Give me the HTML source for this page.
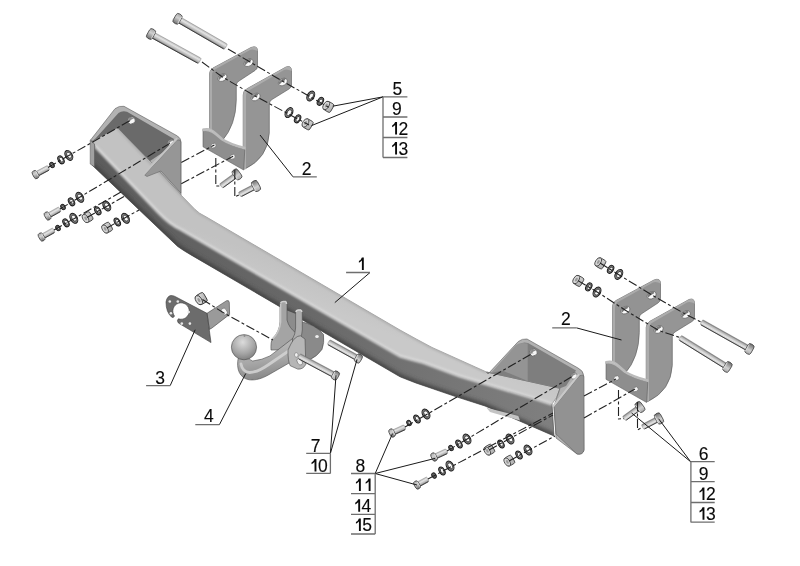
<!DOCTYPE html>
<html><head><meta charset="utf-8">
<style>
html,body{margin:0;padding:0;background:#fff;width:800px;height:566px;overflow:hidden}
svg{display:block;will-change:transform}

</style></head><body>
<svg width="800" height="566" viewBox="0 0 800 566">
<rect width="800" height="566" fill="#fff"/>
<defs>
<linearGradient id="gTop" gradientUnits="userSpaceOnUse" x1="300" y1="270" x2="290" y2="295">
<stop offset="0" stop-color="#c2c2c2"/><stop offset="1" stop-color="#c9c9c9"/></linearGradient>
<linearGradient id="gSide" gradientUnits="userSpaceOnUse" x1="90" y1="0" x2="560" y2="0">
<stop offset="0" stop-color="#5c5c5c"/><stop offset="0.45" stop-color="#686868"/><stop offset="1" stop-color="#808080"/></linearGradient>

<linearGradient id="gShaft" x1="0" y1="0" x2="0" y2="1">
<stop offset="0" stop-color="#b8b8b8"/><stop offset="0.35" stop-color="#e4e4e4"/><stop offset="0.75" stop-color="#b4b4b4"/><stop offset="1" stop-color="#707070"/></linearGradient>
<linearGradient id="gHead" x1="0" y1="0" x2="1" y2="1">
<stop offset="0" stop-color="#d0d0d0"/><stop offset="1" stop-color="#8c8c8c"/></linearGradient>
<g id="brk2">
 <path d="M209.5,74 Q209.5,70 213,68 L251,47.5 Q257.5,45 257.5,51 L257.5,66 Q257.5,69 255,70.5 L239,81 Q236.3,82.5 236.3,85 L236.3,100 Q236,125 222,141 L209.5,141 Z" fill="#939393" stroke="#555" stroke-width="0.6"/>
 <path d="M209.5,141 L209.5,74 Q209.5,70 213,68 L251,47.5 Q257.5,45 257.5,51 L255,50 Q252,49 250,50 L214,70 Q212,72 212,76 L212,141 Z" fill="#ababab"/>
 <path d="M243.2,95 Q243.2,91 246.5,89 L286,67 Q291.5,65 291.5,71 L291.5,85 Q291.5,87.5 289,89 L272,99.5 Q269.3,101 269.3,104 L269.3,133 Q268,158 245,169 L243.2,169 Z" fill="#959595" stroke="#555" stroke-width="0.6"/>
 <path d="M243.2,169 L243.2,95 Q243.2,91 246.5,89 L286,67 Q291.5,65 291.5,71 L289,70 Q286,69 284,70 L248,91 Q246,93 246,97 L246,169 Z" fill="#adadad"/>
 <g transform="translate(222.4,77.6) rotate(-30)"><ellipse rx="4.8" ry="3.4" fill="#fafafa" stroke="#555" stroke-width="0.6"/><path d="M-4.3,0.6 Q-4.3,-3.1 0.5,-3.0 L3.8,-2.8 L3.3,-0.4 Q-1,-1.0 -4.3,0.6 Z" fill="#7a7a7a"/></g><g transform="translate(248.6,62.7) rotate(-30)"><ellipse rx="4.8" ry="3.4" fill="#fafafa" stroke="#555" stroke-width="0.6"/><path d="M-4.3,0.6 Q-4.3,-3.1 0.5,-3.0 L3.8,-2.8 L3.3,-0.4 Q-1,-1.0 -4.3,0.6 Z" fill="#7a7a7a"/></g><g transform="translate(255.6,97) rotate(-30)"><ellipse rx="4.8" ry="3.4" fill="#fafafa" stroke="#555" stroke-width="0.6"/><path d="M-4.3,0.6 Q-4.3,-3.1 0.5,-3.0 L3.8,-2.8 L3.3,-0.4 Q-1,-1.0 -4.3,0.6 Z" fill="#7a7a7a"/></g><g transform="translate(282.8,82) rotate(-30)"><ellipse rx="4.8" ry="3.4" fill="#fafafa" stroke="#555" stroke-width="0.6"/><path d="M-4.3,0.6 Q-4.3,-3.1 0.5,-3.0 L3.8,-2.8 L3.3,-0.4 Q-1,-1.0 -4.3,0.6 Z" fill="#7a7a7a"/></g>
 <path d="M203,129.3 L203,146.8 L243.7,170 L244.8,148.9 C237,146.8 228,144 222,140 C214,133 210,129 203,129.3 Z" fill="#8e8e8e" stroke="#5e5e5e" stroke-width="0.6"/>
 <path d="M203,129.3 C210,127 214,131 222,138.5 C228,142.5 237,145.5 244.8,147.5 L244.8,148.9 C237,146.8 228,144 222,140 C214,133 210,129.3 203,130.5 Z" fill="#d0d0d0" stroke="#bbb" stroke-width="1.5"/>
 <g fill="#f2f2f2" stroke="#666" stroke-width="0.6">
  <ellipse cx="213.5" cy="145.7" rx="2.8" ry="2.2" transform="rotate(-30 213.5 145.7)"/>
  <ellipse cx="232.6" cy="156.8" rx="2.8" ry="2.2" transform="rotate(-30 232.6 156.8)"/>
 </g>
</g>
<linearGradient id="gHeadB" x1="0" y1="0" x2="0" y2="1">
<stop offset="0" stop-color="#a8a8a8"/><stop offset="0.4" stop-color="#d0d0d0"/><stop offset="1" stop-color="#707070"/></linearGradient>
<linearGradient id="gNut" x1="0" y1="0" x2="1" y2="1">
<stop offset="0" stop-color="#e4e4e4"/><stop offset="1" stop-color="#a8a8a8"/></linearGradient>
<radialGradient id="gBall" cx="0.45" cy="0.3" r="0.75">
<stop offset="0" stop-color="#dcdcdc"/><stop offset="0.6" stop-color="#a6a6a6"/><stop offset="1" stop-color="#7a7a7a"/></radialGradient>
<linearGradient id="gNeck" x1="0" y1="0" x2="0.2" y2="1">
<stop offset="0" stop-color="#c2c2c2"/><stop offset="0.6" stop-color="#a8a8a8"/><stop offset="1" stop-color="#8a8a8a"/></linearGradient>
<filter id="blur1" x="-10%" y="-10%" width="120%" height="120%"><feGaussianBlur stdDeviation="1.0"/></filter>
<filter id="blur2" x="-10%" y="-10%" width="120%" height="120%"><feGaussianBlur stdDeviation="2.2"/></filter>
<clipPath id="clipBar"><path d="M91,141 L92.5,141 L117.5,128 L181,195 L195,209.4 Q199,213.5 206,216.8 L400,330 Q416,339 432,347.4 L486.5,372 L560,388.3 Q557,399 552,404 L554,436 L485,406 L455.6,396.6 L415.9,383 Q408,380 400,376.8 L191.8,255.4 Q184,251 177.7,246.5 L92,165 Z"/></clipPath>
</defs><g id="bar" stroke-linejoin="round">
<!-- left bracket rim + inner face -->
<path d="M90.6,140 L115,108.7 Q119,105.5 124,106.3 L177.5,136 Q181,138.5 181,142 L181,195 L150,161 L117.5,128 L92.5,141 Z" fill="#b2b2b2" stroke="#5a5a5a" stroke-width="0.6"/>
<path d="M95.5,138.5 L118.5,113 Q122,110.5 127,111.8 L174,139 L171,147 L150,161 L117.5,128 L93.5,140.5 Z" fill="#6a6a6a"/>
<g transform="translate(131.5,120.5) rotate(-30)"><ellipse rx="3.8" ry="3.4" fill="#f6f6f6" stroke="#4a4a4a" stroke-width="0.6"/><path d="M-3.4,0.4 Q-3.4,-3.2 0,-3.2 Q2.9,-3.0 3.4,-0.5 Q0,-1.6 -3.4,0.4 Z" fill="#8a8a8a"/></g>
<g transform="translate(171,142.5) rotate(-30)"><ellipse rx="3.4" ry="3.0" fill="#f6f6f6" stroke="#4a4a4a" stroke-width="0.6"/><path d="M-3.0,0.4 Q-3.0,-2.8 0,-2.8 Q2.5,-2.6 3.0,-0.5 Q0,-1.6 -3.0,0.4 Z" fill="#8a8a8a"/></g>
<!-- bar side face -->
<path d="M91,141 L95,146 L158,212 Q170,224.5 181,229.5 L400,356 Q412,360 423.8,362.5 L460,376 L530.7,397.1 L552,404 L554,436 L485,406 L455.6,396.6 L415.9,383 Q408,380 400,376.8 L191.8,255.4 Q184,251 177.7,246.5 L92,165 Z" fill="url(#gSide)" stroke="#505050" stroke-width="0.7"/>
<!-- bar top face -->
<path d="M92.5,141 L117.5,128 L181,195 L195,209.4 Q199,213.5 206,216.8 L400,330 Q416,339 432,347.4 L486.5,372 L560,388.3 Q557,399 552,404 L530.7,397.1 L460,376 L423.8,362.5 Q412,359.5 400,356 L181,229.5 Q170,224.5 158,212 L95,146 Z" fill="url(#gTop)" stroke="#6a6a6a" stroke-width="0.5"/>
<g clip-path="url(#clipBar)">
<path d="M92,165 L177.7,246.5 Q184,251 191.8,255.4 L400,376.8 Q408,380 415.9,383 L455.6,396.6 L485,406 L554,436" fill="none" stroke="#404040" stroke-width="5" filter="url(#blur2)"/>
<path d="M95,146 L158,212 Q170,224.5 181,229.5 L400,356 Q412,359.5 423.8,362.5 L460,376 L530.7,397.1 L552,404" fill="none" stroke="#d8d8d8" stroke-width="3" filter="url(#blur1)"/>
<path d="M117.5,128 L181,195 L195,209.4 Q199,213.5 206,216.8 L400,330 Q416,339 432,347.4 L486.5,372" fill="none" stroke="#b0b0b0" stroke-width="3" filter="url(#blur1)"/>
</g>
<!-- bar end face dark -->
<path d="M90.2,140 L94.5,144 L94.5,167 L90.2,164 Z" fill="#a0a0a0" stroke="#555" stroke-width="0.5"/>
<!-- left gusset -->
<path d="M144.5,175 L177,140 Q180.8,139 180.8,142 L180.8,193 L161,171 L147,176.5 Z" fill="#969696" stroke="#5a5a5a" stroke-width="0.5"/>
<path d="M143.8,174 L176.5,139" fill="none" stroke="#c4c4c4" stroke-width="2.2" stroke-linecap="round"/>
<!-- right bracket -->
<path d="M488,374 L518.3,341.5 Q522,338.5 527,339 L578,368 Q583.5,371 583.5,375 L584,450 Q583,455 577,454 L556,438 L554,406 L560,388.3 L486.5,372 Z" fill="#b2b2b2" stroke="#5a5a5a" stroke-width="0.6"/>
<path d="M492,372.5 L520,344 Q523,341.6 528,343 L576,370.5 L566,386 L560,388.3 L486.5,372 Z" fill="#7e7e7e"/>
<path d="M491,373 L516,345 Q520,342 527.7,343.5 L527.7,381 L502.3,370.5 Z" fill="#949494"/>
<g transform="translate(533.5,352.5) rotate(-30)"><ellipse rx="3.8" ry="3.4" fill="#f6f6f6" stroke="#4a4a4a" stroke-width="0.6"/><path d="M-3.4,0.4 Q-3.4,-3.2 0,-3.2 Q2.9,-3.0 3.4,-0.5 Q0,-1.6 -3.4,0.4 Z" fill="#8a8a8a"/></g>
<g transform="translate(574,376) rotate(-30)"><ellipse rx="3.4" ry="3.0" fill="#f6f6f6" stroke="#4a4a4a" stroke-width="0.6"/><path d="M-3.0,0.4 Q-3.0,-2.8 0,-2.8 Q2.5,-2.6 3.0,-0.5 Q0,-1.6 -3.0,0.4 Z" fill="#8a8a8a"/></g>
<path d="M486.5,407.7 L518.3,416 L520,420.5 L490,412 Z" fill="#c4c4c4"/>
<path d="M554,407 L579,376 Q584,374 584,377 L584,450 Q583,455 577,454 L556,434 Z" fill="#929292" stroke="#555" stroke-width="0.5"/>
<path d="M553.5,406 L578.5,375" fill="none" stroke="#c8c8c8" stroke-width="2" stroke-linecap="round"/>
</g>
<use href="#brk2"/>
<use href="#brk2" transform="translate(403,232.5)"/>
<g id="socket" stroke-linejoin="round">
 <path d="M207,313.3 L226.6,300.7 Q229,299.8 229.3,302.5 L229.6,314.4 L211.7,328.2 L209.4,329.4 Z" fill="#9a9a9a" stroke="#444" stroke-width="0.6"/>
 <ellipse cx="224.3" cy="311.5" rx="2.6" ry="3.6" transform="rotate(-35 224.3 311.5)" fill="#f4f4f4" stroke="#555" stroke-width="0.5"/>
 <path d="M166,302 Q167,296 171,295.5 Q174,295.5 176,297 L207,313.3 L211,342.6 L178.4,323 Q176.5,320.5 178.4,318.8 A8.2,8.2 0 1,0 174.5,316 Q173.5,318.5 171.5,317 Q166,312 166,302 Z" fill="#6c6c6c" stroke="#3a3a3a" stroke-width="0.6"/>
 <g fill="#e8e8e8">
  <circle cx="169.8" cy="301.5" r="1.3"/><circle cx="177.8" cy="301.5" r="1.3"/>
  <circle cx="170.9" cy="313.3" r="1.3"/><circle cx="188.7" cy="312.1" r="1.3"/>
  <circle cx="181.8" cy="323.6" r="1.3"/><circle cx="189.9" cy="323.6" r="1.3"/>
 </g>
</g>
<g id="hitch" stroke-linejoin="round">
 <!-- disc -->
 <path d="M300,321.5 Q315,324 323.5,334.5 Q324.5,343 322,349.4 Q317,356.5 310,359.5 L300,357 Z" fill="#8a8a8a" stroke="#4a4a4a" stroke-width="0.6"/>
 <ellipse cx="317" cy="336.5" rx="1.8" ry="1.5" fill="#eee"/>
 <!-- body between prongs -->
 <path d="M286,310 L296,314 L296,342 L286,340 Z" fill="#8c8c8c"/>
 <!-- back plate with left prong -->
 <path d="M280,304 Q280.3,301.2 283,301 L285.5,301 Q287,301.5 287,304 L287,320 Q289,328 296,333 L296,350 L271,350 Q270.5,342 272.5,338.5 Q279.5,332 280,322 Z" fill="#a4a4a4" stroke="#4a4a4a" stroke-width="0.6"/>
 <path d="M272.5,339 Q279.5,332.5 280.6,322 L280.6,304" fill="none" stroke="#c6c6c6" stroke-width="1.5"/>
 <path d="M280.5,303.5 Q281,301.5 283,301.5 L285.5,301.5 Q286.5,302 286.5,304" fill="none" stroke="#d0d0d0" stroke-width="1.6"/>
 <!-- right prong -->
 <path d="M295.6,312.5 Q295.8,309.5 298.5,309.3 L300.5,309.3 Q302.3,309.8 302.3,312.5 L302.3,330 Q302,336 300,338 L294,344 L292,340 Q295.6,334 295.6,328 Z" fill="#adadad" stroke="#4a4a4a" stroke-width="0.6"/>
 <path d="M296,312 Q296.3,310 298.5,310 L300.5,310 Q301.8,310.3 301.8,312" fill="none" stroke="#d4d4d4" stroke-width="1.6"/>
 <!-- neck -->
 <path d="M238.5,357 C235.5,369 240,378.5 249.3,379.8 C256,380.5 262,378.5 268.3,375 L292.6,361 L292.6,338.5 L270,355.9 Q262,360 252.7,361 Q249,360 248,357 Z" fill="url(#gNeck)" stroke="#4a4a4a" stroke-width="0.6"/>
 <path d="M241,364 Q242.5,372 249.5,372.5 Q257,372.5 268,365 L290,350" fill="none" stroke="#d2d2d2" stroke-width="2.8" stroke-linecap="round" opacity="0.9"/>
 <!-- front flange -->
 <path d="M290.9,344 Q295,336 300.4,335.8 L305,339 L305.8,364.4 Q303,369.6 297.7,369.1 L290.2,365.7 Q287.8,361 288,350 Z" fill="#b6b6b6" stroke="#4a4a4a" stroke-width="0.6"/>
 <ellipse cx="296.3" cy="354.9" rx="1.8" ry="2.2" fill="#f0f0f0" stroke="#555" stroke-width="0.4"/>
 <ellipse cx="299.7" cy="361.7" rx="2.4" ry="3.6" transform="rotate(-30 299.7 361.7)" fill="#f0f0f0" stroke="#555" stroke-width="0.5"/>
 <!-- ball -->
 <circle cx="244" cy="347.2" r="12.6" fill="url(#gBall)" stroke="#4a4a4a" stroke-width="0.6"/>
 <circle cx="244.5" cy="335.8" r="1.1" fill="#8a8a8a"/>
</g>
<g transform="translate(177.5,18.8) rotate(30.0)"><rect x="0" y="-3.00" width="56.0" height="6.00" rx="1.2" fill="url(#gShaft)" stroke="#777" stroke-width="0.4"/><path d="M0,3.00 L55.0,3.00" stroke="#333" stroke-width="0.8"/><rect x="-3.25" y="-5.25" width="6.50" height="10.50" rx="2.4" fill="url(#gHeadB)" stroke="#333" stroke-width="0.7"/><path d="M2.55,-3.85 L2.55,3.85" stroke="#e0e0e0" stroke-width="0.9"/></g><g transform="translate(151.0,34.0) rotate(28.9)"><rect x="0" y="-3.00" width="55.9" height="6.00" rx="1.2" fill="url(#gShaft)" stroke="#777" stroke-width="0.4"/><path d="M0,3.00 L54.9,3.00" stroke="#333" stroke-width="0.8"/><rect x="-3.25" y="-5.25" width="6.50" height="10.50" rx="2.4" fill="url(#gHeadB)" stroke="#333" stroke-width="0.7"/><path d="M2.55,-3.85 L2.55,3.85" stroke="#e0e0e0" stroke-width="0.9"/></g><g transform="translate(35.5,174.6) rotate(-28.1)"><rect x="0" y="-2.50" width="14.9" height="5.00" rx="1.2" fill="url(#gShaft)" stroke="#777" stroke-width="0.4"/><path d="M0,2.50 L13.9,2.50" stroke="#333" stroke-width="0.8"/><rect x="-2.50" y="-4.25" width="5.00" height="8.50" rx="2.4" fill="url(#gHeadB)" stroke="#333" stroke-width="0.7"/><path d="M1.80,-2.85 L1.80,2.85" stroke="#e0e0e0" stroke-width="0.9"/></g><g transform="translate(47.5,216.0) rotate(-29.2)"><rect x="0" y="-2.50" width="14.3" height="5.00" rx="1.2" fill="url(#gShaft)" stroke="#777" stroke-width="0.4"/><path d="M0,2.50 L13.3,2.50" stroke="#333" stroke-width="0.8"/><rect x="-2.50" y="-4.25" width="5.00" height="8.50" rx="2.4" fill="url(#gHeadB)" stroke="#333" stroke-width="0.7"/><path d="M1.80,-2.85 L1.80,2.85" stroke="#e0e0e0" stroke-width="0.9"/></g><g transform="translate(41.5,237.0) rotate(-29.2)"><rect x="0" y="-2.50" width="14.3" height="5.00" rx="1.2" fill="url(#gShaft)" stroke="#777" stroke-width="0.4"/><path d="M0,2.50 L13.3,2.50" stroke="#333" stroke-width="0.8"/><rect x="-2.50" y="-4.25" width="5.00" height="8.50" rx="2.4" fill="url(#gHeadB)" stroke="#333" stroke-width="0.7"/><path d="M1.80,-2.85 L1.80,2.85" stroke="#e0e0e0" stroke-width="0.9"/></g><g transform="translate(237.0,174.4) rotate(144.1)"><rect x="0" y="-2.60" width="19.8" height="5.20" rx="1.2" fill="url(#gShaft)" stroke="#777" stroke-width="0.4"/><path d="M0,-2.60 L18.8,-2.60" stroke="#333" stroke-width="0.8"/><rect x="-3.25" y="-5.50" width="6.50" height="11.00" rx="2.4" fill="url(#gHeadB)" stroke="#333" stroke-width="0.7"/><path d="M2.55,-4.10 L2.55,4.10" stroke="#e0e0e0" stroke-width="0.9"/></g><g transform="translate(256.0,186.0) rotate(152.5)"><rect x="0" y="-2.60" width="18.6" height="5.20" rx="1.2" fill="url(#gShaft)" stroke="#777" stroke-width="0.4"/><path d="M0,-2.60 L17.6,-2.60" stroke="#333" stroke-width="0.8"/><rect x="-3.25" y="-5.50" width="6.50" height="11.00" rx="2.4" fill="url(#gHeadB)" stroke="#333" stroke-width="0.7"/><path d="M2.55,-4.10 L2.55,4.10" stroke="#e0e0e0" stroke-width="0.9"/></g><g transform="translate(640.0,407.0) rotate(144.1)"><rect x="0" y="-2.60" width="19.8" height="5.20" rx="1.2" fill="url(#gShaft)" stroke="#777" stroke-width="0.4"/><path d="M0,-2.60 L18.8,-2.60" stroke="#333" stroke-width="0.8"/><rect x="-3.25" y="-5.50" width="6.50" height="11.00" rx="2.4" fill="url(#gHeadB)" stroke="#333" stroke-width="0.7"/><path d="M2.55,-4.10 L2.55,4.10" stroke="#e0e0e0" stroke-width="0.9"/></g><g transform="translate(659.0,418.5) rotate(152.5)"><rect x="0" y="-2.60" width="18.6" height="5.20" rx="1.2" fill="url(#gShaft)" stroke="#777" stroke-width="0.4"/><path d="M0,-2.60 L17.6,-2.60" stroke="#333" stroke-width="0.8"/><rect x="-3.25" y="-5.50" width="6.50" height="11.00" rx="2.4" fill="url(#gHeadB)" stroke="#333" stroke-width="0.7"/><path d="M2.55,-4.10 L2.55,4.10" stroke="#e0e0e0" stroke-width="0.9"/></g><g transform="translate(749.5,349.0) rotate(-150.7)"><rect x="0" y="-2.70" width="55.2" height="5.40" rx="1.2" fill="url(#gShaft)" stroke="#777" stroke-width="0.4"/><path d="M0,-2.70 L54.2,-2.70" stroke="#333" stroke-width="0.8"/><rect x="-3.25" y="-5.25" width="6.50" height="10.50" rx="2.4" fill="url(#gHeadB)" stroke="#333" stroke-width="0.7"/><path d="M2.55,-3.85 L2.55,3.85" stroke="#e0e0e0" stroke-width="0.9"/></g><g transform="translate(727.5,367.0) rotate(-148.2)"><rect x="0" y="-2.70" width="55.9" height="5.40" rx="1.2" fill="url(#gShaft)" stroke="#777" stroke-width="0.4"/><path d="M0,-2.70 L54.9,-2.70" stroke="#333" stroke-width="0.8"/><rect x="-3.25" y="-5.25" width="6.50" height="10.50" rx="2.4" fill="url(#gHeadB)" stroke="#333" stroke-width="0.7"/><path d="M2.55,-3.85 L2.55,3.85" stroke="#e0e0e0" stroke-width="0.9"/></g><g transform="translate(392.0,433.0) rotate(-24.8)"><rect x="0" y="-2.50" width="14.3" height="5.00" rx="1.2" fill="url(#gShaft)" stroke="#777" stroke-width="0.4"/><path d="M0,2.50 L13.3,2.50" stroke="#333" stroke-width="0.8"/><rect x="-2.50" y="-4.25" width="5.00" height="8.50" rx="2.4" fill="url(#gHeadB)" stroke="#333" stroke-width="0.7"/><path d="M1.80,-2.85 L1.80,2.85" stroke="#e0e0e0" stroke-width="0.9"/></g><g transform="translate(434.0,457.0) rotate(-24.8)"><rect x="0" y="-2.50" width="14.3" height="5.00" rx="1.2" fill="url(#gShaft)" stroke="#777" stroke-width="0.4"/><path d="M0,2.50 L13.3,2.50" stroke="#333" stroke-width="0.8"/><rect x="-2.50" y="-4.25" width="5.00" height="8.50" rx="2.4" fill="url(#gHeadB)" stroke="#333" stroke-width="0.7"/><path d="M1.80,-2.85 L1.80,2.85" stroke="#e0e0e0" stroke-width="0.9"/></g><g transform="translate(417.0,485.0) rotate(-28.6)"><rect x="0" y="-2.50" width="12.5" height="5.00" rx="1.2" fill="url(#gShaft)" stroke="#777" stroke-width="0.4"/><path d="M0,2.50 L11.5,2.50" stroke="#333" stroke-width="0.8"/><rect x="-2.50" y="-4.25" width="5.00" height="8.50" rx="2.4" fill="url(#gHeadB)" stroke="#333" stroke-width="0.7"/><path d="M1.80,-2.85 L1.80,2.85" stroke="#e0e0e0" stroke-width="0.9"/></g><g transform="translate(335.5,375.5) rotate(-151.9)"><rect x="0" y="-2.70" width="41.4" height="5.40" rx="1.2" fill="url(#gShaft)" stroke="#777" stroke-width="0.4"/><path d="M0,-2.70 L40.4,-2.70" stroke="#333" stroke-width="0.8"/><rect x="-3.00" y="-4.50" width="6.00" height="9.00" rx="2.4" fill="url(#gHeadB)" stroke="#333" stroke-width="0.7"/><path d="M2.30,-3.10 L2.30,3.10" stroke="#e0e0e0" stroke-width="0.9"/></g><g transform="translate(358.5,358.5) rotate(-151.1)"><rect x="0" y="-2.70" width="34.2" height="5.40" rx="1.2" fill="url(#gShaft)" stroke="#777" stroke-width="0.4"/><path d="M0,-2.70 L33.2,-2.70" stroke="#333" stroke-width="0.8"/><rect x="-3.00" y="-4.50" width="6.00" height="9.00" rx="2.4" fill="url(#gHeadB)" stroke="#333" stroke-width="0.7"/><path d="M2.30,-3.10 L2.30,3.10" stroke="#e0e0e0" stroke-width="0.9"/></g><g transform="translate(310.75,96) rotate(30)"><ellipse rx="3.4" ry="5.4" fill="#7a7a7a" stroke="#1a1a1a" stroke-width="1.0"/><ellipse cx="0.3" rx="2.04" ry="3.35" fill="#f8f8f8" stroke="#222" stroke-width="0.7"/></g><g transform="translate(320.4,101.3) rotate(30)"><ellipse rx="2.7" ry="4.3" fill="#7a7a7a" stroke="#1a1a1a" stroke-width="1.0"/><ellipse cx="0.3" rx="1.62" ry="2.67" fill="#f8f8f8" stroke="#222" stroke-width="0.7"/></g><g transform="translate(328,106.5) rotate(30) scale(0.958)"><rect x="-3.5" y="-5" width="8.5" height="10" rx="2" fill="url(#gNut)" stroke="#333" stroke-width="0.8"/><ellipse cx="-2.2" cy="0" rx="2.8" ry="4.8" fill="#d6d6d6" stroke="#333" stroke-width="0.8"/><ellipse cx="-2" cy="0" rx="1.2" ry="2.2" fill="#9a9a9a"/></g><g transform="translate(289,112.6) rotate(30)"><ellipse rx="3.4" ry="5.4" fill="#7a7a7a" stroke="#1a1a1a" stroke-width="1.0"/><ellipse cx="0.3" rx="2.04" ry="3.35" fill="#f8f8f8" stroke="#222" stroke-width="0.7"/></g><g transform="translate(297.6,118.8) rotate(30)"><ellipse rx="2.7" ry="4.3" fill="#7a7a7a" stroke="#1a1a1a" stroke-width="1.0"/><ellipse cx="0.3" rx="1.62" ry="2.67" fill="#f8f8f8" stroke="#222" stroke-width="0.7"/></g><g transform="translate(307.3,124) rotate(30) scale(0.958)"><rect x="-3.5" y="-5" width="8.5" height="10" rx="2" fill="url(#gNut)" stroke="#333" stroke-width="0.8"/><ellipse cx="-2.2" cy="0" rx="2.8" ry="4.8" fill="#d6d6d6" stroke="#333" stroke-width="0.8"/><ellipse cx="-2" cy="0" rx="1.2" ry="2.2" fill="#9a9a9a"/></g><g transform="translate(52,165) rotate(-30)"><ellipse rx="2.0" ry="2.8" fill="#7a7a7a" stroke="#1a1a1a" stroke-width="1.0"/><ellipse cx="0.3" rx="1.00" ry="1.46" fill="#f8f8f8" stroke="#222" stroke-width="0.7"/></g><g transform="translate(61,159.8) rotate(-30)"><ellipse rx="2.7" ry="4.3" fill="#7a7a7a" stroke="#1a1a1a" stroke-width="1.0"/><ellipse cx="0.3" rx="1.62" ry="2.67" fill="#f8f8f8" stroke="#222" stroke-width="0.7"/></g><g transform="translate(68.8,155.4) rotate(-30)"><ellipse rx="3.4" ry="5.4" fill="#7a7a7a" stroke="#1a1a1a" stroke-width="1.0"/><ellipse cx="0.3" rx="2.04" ry="3.35" fill="#f8f8f8" stroke="#222" stroke-width="0.7"/></g><g transform="translate(63,207) rotate(-30)"><ellipse rx="2.0" ry="2.8" fill="#7a7a7a" stroke="#1a1a1a" stroke-width="1.0"/><ellipse cx="0.3" rx="1.00" ry="1.46" fill="#f8f8f8" stroke="#222" stroke-width="0.7"/></g><g transform="translate(71.5,201.8) rotate(-30)"><ellipse rx="2.7" ry="4.3" fill="#7a7a7a" stroke="#1a1a1a" stroke-width="1.0"/><ellipse cx="0.3" rx="1.62" ry="2.67" fill="#f8f8f8" stroke="#222" stroke-width="0.7"/></g><g transform="translate(79.8,197.3) rotate(-30)"><ellipse rx="3.4" ry="5.4" fill="#7a7a7a" stroke="#1a1a1a" stroke-width="1.0"/><ellipse cx="0.3" rx="2.04" ry="3.35" fill="#f8f8f8" stroke="#222" stroke-width="0.7"/></g><g transform="translate(58,228) rotate(-30)"><ellipse rx="2.0" ry="2.8" fill="#7a7a7a" stroke="#1a1a1a" stroke-width="1.0"/><ellipse cx="0.3" rx="1.00" ry="1.46" fill="#f8f8f8" stroke="#222" stroke-width="0.7"/></g><g transform="translate(66,222.8) rotate(-30)"><ellipse rx="2.7" ry="4.3" fill="#7a7a7a" stroke="#1a1a1a" stroke-width="1.0"/><ellipse cx="0.3" rx="1.62" ry="2.67" fill="#f8f8f8" stroke="#222" stroke-width="0.7"/></g><g transform="translate(73.8,218.3) rotate(-30)"><ellipse rx="3.4" ry="5.4" fill="#7a7a7a" stroke="#1a1a1a" stroke-width="1.0"/><ellipse cx="0.3" rx="2.04" ry="3.35" fill="#f8f8f8" stroke="#222" stroke-width="0.7"/></g><g transform="translate(87.3,217.5) rotate(-30) scale(0.938)"><rect x="-3.5" y="-5" width="8.5" height="10" rx="2" fill="url(#gNut)" stroke="#333" stroke-width="0.8"/><ellipse cx="-2.2" cy="0" rx="2.8" ry="4.8" fill="#d6d6d6" stroke="#333" stroke-width="0.8"/><ellipse cx="-2" cy="0" rx="1.2" ry="2.2" fill="#9a9a9a"/></g><g transform="translate(97.8,210.8) rotate(-30)"><ellipse rx="2.7" ry="4.3" fill="#7a7a7a" stroke="#1a1a1a" stroke-width="1.0"/><ellipse cx="0.3" rx="1.62" ry="2.67" fill="#f8f8f8" stroke="#222" stroke-width="0.7"/></g><g transform="translate(106.8,206) rotate(-30)"><ellipse rx="3.4" ry="5.4" fill="#7a7a7a" stroke="#1a1a1a" stroke-width="1.0"/><ellipse cx="0.3" rx="2.04" ry="3.35" fill="#f8f8f8" stroke="#222" stroke-width="0.7"/></g><g transform="translate(106.8,228) rotate(-30) scale(0.938)"><rect x="-3.5" y="-5" width="8.5" height="10" rx="2" fill="url(#gNut)" stroke="#333" stroke-width="0.8"/><ellipse cx="-2.2" cy="0" rx="2.8" ry="4.8" fill="#d6d6d6" stroke="#333" stroke-width="0.8"/><ellipse cx="-2" cy="0" rx="1.2" ry="2.2" fill="#9a9a9a"/></g><g transform="translate(117.3,222) rotate(-30)"><ellipse rx="2.7" ry="4.3" fill="#7a7a7a" stroke="#1a1a1a" stroke-width="1.0"/><ellipse cx="0.3" rx="1.62" ry="2.67" fill="#f8f8f8" stroke="#222" stroke-width="0.7"/></g><g transform="translate(125.5,218.3) rotate(-30)"><ellipse rx="3.4" ry="5.4" fill="#7a7a7a" stroke="#1a1a1a" stroke-width="1.0"/><ellipse cx="0.3" rx="2.04" ry="3.35" fill="#f8f8f8" stroke="#222" stroke-width="0.7"/></g><g transform="translate(409,423) rotate(-30)"><ellipse rx="2.0" ry="2.8" fill="#7a7a7a" stroke="#1a1a1a" stroke-width="1.0"/><ellipse cx="0.3" rx="1.00" ry="1.46" fill="#f8f8f8" stroke="#222" stroke-width="0.7"/></g><g transform="translate(417,419) rotate(-30)"><ellipse rx="2.7" ry="4.3" fill="#7a7a7a" stroke="#1a1a1a" stroke-width="1.0"/><ellipse cx="0.3" rx="1.62" ry="2.67" fill="#f8f8f8" stroke="#222" stroke-width="0.7"/></g><g transform="translate(426,414) rotate(-30)"><ellipse rx="3.4" ry="5.4" fill="#7a7a7a" stroke="#1a1a1a" stroke-width="1.0"/><ellipse cx="0.3" rx="2.04" ry="3.35" fill="#f8f8f8" stroke="#222" stroke-width="0.7"/></g><g transform="translate(451,448) rotate(-30)"><ellipse rx="2.0" ry="2.8" fill="#7a7a7a" stroke="#1a1a1a" stroke-width="1.0"/><ellipse cx="0.3" rx="1.00" ry="1.46" fill="#f8f8f8" stroke="#222" stroke-width="0.7"/></g><g transform="translate(459,444) rotate(-30)"><ellipse rx="2.7" ry="4.3" fill="#7a7a7a" stroke="#1a1a1a" stroke-width="1.0"/><ellipse cx="0.3" rx="1.62" ry="2.67" fill="#f8f8f8" stroke="#222" stroke-width="0.7"/></g><g transform="translate(467,439) rotate(-30)"><ellipse rx="3.4" ry="5.4" fill="#7a7a7a" stroke="#1a1a1a" stroke-width="1.0"/><ellipse cx="0.3" rx="2.04" ry="3.35" fill="#f8f8f8" stroke="#222" stroke-width="0.7"/></g><g transform="translate(434,475.6) rotate(-30)"><ellipse rx="2.0" ry="2.8" fill="#7a7a7a" stroke="#1a1a1a" stroke-width="1.0"/><ellipse cx="0.3" rx="1.00" ry="1.46" fill="#f8f8f8" stroke="#222" stroke-width="0.7"/></g><g transform="translate(442,471) rotate(-30)"><ellipse rx="2.7" ry="4.3" fill="#7a7a7a" stroke="#1a1a1a" stroke-width="1.0"/><ellipse cx="0.3" rx="1.62" ry="2.67" fill="#f8f8f8" stroke="#222" stroke-width="0.7"/></g><g transform="translate(450,466) rotate(-30)"><ellipse rx="3.4" ry="5.4" fill="#7a7a7a" stroke="#1a1a1a" stroke-width="1.0"/><ellipse cx="0.3" rx="2.04" ry="3.35" fill="#f8f8f8" stroke="#222" stroke-width="0.7"/></g><g transform="translate(489,450) rotate(-30) scale(0.938)"><rect x="-3.5" y="-5" width="8.5" height="10" rx="2" fill="url(#gNut)" stroke="#333" stroke-width="0.8"/><ellipse cx="-2.2" cy="0" rx="2.8" ry="4.8" fill="#d6d6d6" stroke="#333" stroke-width="0.8"/><ellipse cx="-2" cy="0" rx="1.2" ry="2.2" fill="#9a9a9a"/></g><g transform="translate(501,444) rotate(-30)"><ellipse rx="2.7" ry="4.3" fill="#7a7a7a" stroke="#1a1a1a" stroke-width="1.0"/><ellipse cx="0.3" rx="1.62" ry="2.67" fill="#f8f8f8" stroke="#222" stroke-width="0.7"/></g><g transform="translate(510,439) rotate(-30)"><ellipse rx="3.4" ry="5.4" fill="#7a7a7a" stroke="#1a1a1a" stroke-width="1.0"/><ellipse cx="0.3" rx="2.04" ry="3.35" fill="#f8f8f8" stroke="#222" stroke-width="0.7"/></g><g transform="translate(509,461) rotate(-30) scale(0.938)"><rect x="-3.5" y="-5" width="8.5" height="10" rx="2" fill="url(#gNut)" stroke="#333" stroke-width="0.8"/><ellipse cx="-2.2" cy="0" rx="2.8" ry="4.8" fill="#d6d6d6" stroke="#333" stroke-width="0.8"/><ellipse cx="-2" cy="0" rx="1.2" ry="2.2" fill="#9a9a9a"/></g><g transform="translate(519,455) rotate(-30)"><ellipse rx="2.7" ry="4.3" fill="#7a7a7a" stroke="#1a1a1a" stroke-width="1.0"/><ellipse cx="0.3" rx="1.62" ry="2.67" fill="#f8f8f8" stroke="#222" stroke-width="0.7"/></g><g transform="translate(528,450) rotate(-30)"><ellipse rx="3.4" ry="5.4" fill="#7a7a7a" stroke="#1a1a1a" stroke-width="1.0"/><ellipse cx="0.3" rx="2.04" ry="3.35" fill="#f8f8f8" stroke="#222" stroke-width="0.7"/></g><g transform="translate(600,263) rotate(30) scale(0.958)"><rect x="-3.5" y="-5" width="8.5" height="10" rx="2" fill="url(#gNut)" stroke="#333" stroke-width="0.8"/><ellipse cx="-2.2" cy="0" rx="2.8" ry="4.8" fill="#d6d6d6" stroke="#333" stroke-width="0.8"/><ellipse cx="-2" cy="0" rx="1.2" ry="2.2" fill="#9a9a9a"/></g><g transform="translate(610.6,269.4) rotate(30)"><ellipse rx="2.7" ry="4.3" fill="#7a7a7a" stroke="#1a1a1a" stroke-width="1.0"/><ellipse cx="0.3" rx="1.62" ry="2.67" fill="#f8f8f8" stroke="#222" stroke-width="0.7"/></g><g transform="translate(618.8,274.4) rotate(30)"><ellipse rx="3.4" ry="5.4" fill="#7a7a7a" stroke="#1a1a1a" stroke-width="1.0"/><ellipse cx="0.3" rx="2.04" ry="3.35" fill="#f8f8f8" stroke="#222" stroke-width="0.7"/></g><g transform="translate(578,280.6) rotate(30) scale(0.958)"><rect x="-3.5" y="-5" width="8.5" height="10" rx="2" fill="url(#gNut)" stroke="#333" stroke-width="0.8"/><ellipse cx="-2.2" cy="0" rx="2.8" ry="4.8" fill="#d6d6d6" stroke="#333" stroke-width="0.8"/><ellipse cx="-2" cy="0" rx="1.2" ry="2.2" fill="#9a9a9a"/></g><g transform="translate(588.8,286.9) rotate(30)"><ellipse rx="2.7" ry="4.3" fill="#7a7a7a" stroke="#1a1a1a" stroke-width="1.0"/><ellipse cx="0.3" rx="1.62" ry="2.67" fill="#f8f8f8" stroke="#222" stroke-width="0.7"/></g><g transform="translate(597,292) rotate(30)"><ellipse rx="3.4" ry="5.4" fill="#7a7a7a" stroke="#1a1a1a" stroke-width="1.0"/><ellipse cx="0.3" rx="2.04" ry="3.35" fill="#f8f8f8" stroke="#222" stroke-width="0.7"/></g><g transform="translate(200.8,299) rotate(-30) scale(1.042)"><rect x="-3.5" y="-5" width="8.5" height="10" rx="2" fill="url(#gNut)" stroke="#333" stroke-width="0.8"/><ellipse cx="-2.2" cy="0" rx="2.8" ry="4.8" fill="#d6d6d6" stroke="#333" stroke-width="0.8"/><ellipse cx="-2" cy="0" rx="1.2" ry="2.2" fill="#9a9a9a"/></g><path d="M228,49 L250,62 L284,82 L330,108" fill="none" stroke="#222" stroke-width="1.1" stroke-dasharray="9 2.5 3 2.5"/><path d="M202,62 L222.4,77 L256,96.5 L309,125" fill="none" stroke="#222" stroke-width="1.1" stroke-dasharray="9 2.5 3 2.5"/><path d="M48,167.5 L130,120.6" fill="none" stroke="#222" stroke-width="1.1" stroke-dasharray="9 2.5 3 2.5"/><path d="M60,209 L171.3,142.5" fill="none" stroke="#222" stroke-width="1.1" stroke-dasharray="9 2.5 3 2.5"/><path d="M54,230 L121,192" fill="none" stroke="#222" stroke-width="1.1" stroke-dasharray="9 2.5 3 2.5"/><path d="M87,217.5 L124,196.5" fill="none" stroke="#222" stroke-width="1.1" stroke-dasharray="9 2.5 3 2.5"/><path d="M106.8,228 L139,210" fill="none" stroke="#222" stroke-width="1.1" stroke-dasharray="9 2.5 3 2.5"/><path d="M181.3,162.5 L214.4,145" fill="none" stroke="#222" stroke-width="1.1" stroke-dasharray="9 2.5 3 2.5"/><path d="M181.3,183.8 L233.1,156.3" fill="none" stroke="#222" stroke-width="1.1" stroke-dasharray="9 2.5 3 2.5"/><path d="M215.8,158 L215.8,186 L221,186" fill="none" stroke="#222" stroke-width="1.1" stroke-dasharray="9 2.5 3 2.5"/><path d="M234.8,170 L234.8,197 L239.5,194.6" fill="none" stroke="#222" stroke-width="1.1" stroke-dasharray="9 2.5 3 2.5"/><path d="M618.5,390 L618.5,419 L624,418.6" fill="none" stroke="#222" stroke-width="1.1" stroke-dasharray="9 2.5 3 2.5"/><path d="M637.5,402 L637.5,430 L642.5,427.1" fill="none" stroke="#222" stroke-width="1.1" stroke-dasharray="9 2.5 3 2.5"/><path d="M584,396 L616,379" fill="none" stroke="#222" stroke-width="1.1" stroke-dasharray="9 2.5 3 2.5"/><path d="M584,418 L635,389" fill="none" stroke="#222" stroke-width="1.1" stroke-dasharray="9 2.5 3 2.5"/><path d="M600,263 L622.5,277 L652,295 L686,314.5 L701,322" fill="none" stroke="#222" stroke-width="1.1" stroke-dasharray="9 2.5 3 2.5"/><path d="M578,280.6 L601,294.4 L625,310 L658.6,330.5 L680,337.6" fill="none" stroke="#222" stroke-width="1.1" stroke-dasharray="9 2.5 3 2.5"/><path d="M405,427 L533,353" fill="none" stroke="#222" stroke-width="1.1" stroke-dasharray="9 2.5 3 2.5"/><path d="M447,451 L573,376" fill="none" stroke="#222" stroke-width="1.1" stroke-dasharray="9 2.5 3 2.5"/><path d="M428,479 L553,413" fill="none" stroke="#222" stroke-width="1.1" stroke-dasharray="9 2.5 3 2.5"/><path d="M489,450 L553,415" fill="none" stroke="#222" stroke-width="1.1" stroke-dasharray="9 2.5 3 2.5"/><path d="M509,461 L555,436" fill="none" stroke="#222" stroke-width="1.1" stroke-dasharray="9 2.5 3 2.5"/><path d="M202.5,299.5 L224.3,313.3 L273,340" fill="none" stroke="#222" stroke-width="1.1" stroke-dasharray="9 2.5 3 2.5"/><g stroke="#1a1a1a" stroke-width="1" fill="none">
<path d="M260,135 L293,176.8"/>
<path d="M370,272.5 L334.8,302.6"/>
<path d="M576.6,327.9 L621.5,340"/>
<path d="M170.2,385.6 L195.2,329.7"/>
<path d="M219.4,424.7 L245.75,373.5"/>
<path d="M332.7,106.2 L383,96.85 L311.5,125.6"/>
<path d="M336,375.3 L330.4,453.4 L357,359.4"/>
<path d="M392.5,433.6 L375.2,473.5 L435,458.4 M375.2,473.5 L417,485"/>
<path d="M631.6,413 L690.6,461.7 L658.6,418.75"/>
</g>
<g stroke="#6e6e6e" stroke-width="1.3" fill="none">
<path d="M293,176.8 H316.8 M346.1,272.5 H370 M552.2,327.9 H576.6 M146.1,385.6 H170.2 M195.3,424.7 H219.4"/>
<path d="M383,96.85 H407.4 M383,117 H407.4 M383,137.5 H407.4 M383,157.5 H407.4 M383,96.85 V157.5"/>
<path d="M690.6,461.7 H714.7 M690.6,481.6 H714.7 M690.6,502.5 H714.7 M690.6,522.2 H714.7 M690.9,461.7 V522.2"/>
<path d="M306.2,453.4 H330.4 M306.2,473.4 H330.4 M330.4,453.4 V473.4"/>
<path d="M351,473.5 H375.2 M351,493.7 H375.2 M351,514.4 H375.2 M351,534 H375.2 M375.2,473.5 V534"/>
</g>
<g style="font-family:Liberation Sans;font-size:17.5px" fill="#0a0a0a" stroke="#0a0a0a" stroke-width="0.12" text-anchor="middle"><text x="397.30" y="94.7">5</text><text x="396.90" y="114.6">9</text><text x="403.37" y="134.5">2</text><text x="403.37" y="154.5">3</text><text x="703.50" y="459.9">6</text><text x="703.70" y="479.5">9</text><text x="710.76" y="499.9">2</text><text x="710.76" y="519.8">3</text><text x="315.50" y="451.6">7</text><text x="322.76" y="471.5">0</text><text x="360.30" y="471.5">8</text><text x="366.47" y="511.7">4</text><text x="367.17" y="531.0">5</text><text x="160.20" y="383.5">3</text><text x="208.80" y="422.2">4</text><text x="306.60" y="174.9">2</text><text x="565.80" y="325.4">2</text></g><g fill="#0a0a0a"><path d="M395.13,122.00 L397.03,122.00 L397.03,134.50 L395.13,134.50 L395.13,125.10 Q393.83,126.50 392.13,127.30 L392.13,125.50 Q394.24,124.50 395.13,122.00 Z"/><path d="M395.13,142.00 L397.03,142.00 L397.03,154.50 L395.13,154.50 L395.13,145.10 Q393.83,146.50 392.13,147.30 L392.13,145.50 Q394.24,144.50 395.13,142.00 Z"/><path d="M702.53,487.40 L704.43,487.40 L704.43,499.90 L702.53,499.90 L702.53,490.50 Q701.24,491.90 699.53,492.70 L699.53,490.90 Q701.63,489.90 702.53,487.40 Z"/><path d="M702.53,507.30 L704.43,507.30 L704.43,519.80 L702.53,519.80 L702.53,510.40 Q701.24,511.80 699.53,512.60 L699.53,510.80 Q701.63,509.80 702.53,507.30 Z"/><path d="M314.53,459.00 L316.43,459.00 L316.43,471.50 L314.53,471.50 L314.53,462.10 Q313.23,463.50 311.53,464.30 L311.53,462.50 Q313.63,461.50 314.53,459.00 Z"/><path d="M358.94,478.50 L360.83,478.50 L360.83,491.00 L358.94,491.00 L358.94,481.60 Q357.63,483.00 355.94,483.80 L355.94,482.00 Q358.04,481.00 358.94,478.50 Z"/><path d="M368.67,478.50 L370.56,478.50 L370.56,491.00 L368.67,491.00 L368.67,481.60 Q367.37,483.00 365.67,483.80 L365.67,482.00 Q367.77,481.00 368.67,478.50 Z"/><path d="M358.24,499.20 L360.13,499.20 L360.13,511.70 L358.24,511.70 L358.24,502.30 Q356.94,503.70 355.24,504.50 L355.24,502.70 Q357.34,501.70 358.24,499.20 Z"/><path d="M358.94,518.50 L360.83,518.50 L360.83,531.00 L358.94,531.00 L358.94,521.60 Q357.63,523.00 355.94,523.80 L355.94,522.00 Q358.04,521.00 358.94,518.50 Z"/><path d="M361.90,257.40 L363.80,257.40 L363.80,269.90 L361.90,269.90 L361.90,260.50 Q360.60,261.90 358.90,262.70 L358.90,260.90 Q361.00,259.90 361.90,257.40 Z"/></g></svg></body></html>
